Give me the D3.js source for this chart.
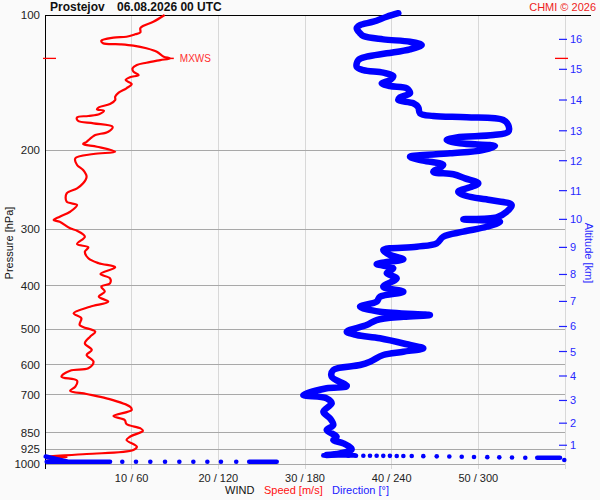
<!DOCTYPE html>
<html><head><meta charset="utf-8">
<script src="https://cdn.jsdelivr.net/npm/d3@7"></script>
<style>
body{margin:0;background:#fafafa}
svg{display:block;font-family:"Liberation Sans",Arial,sans-serif}
</style>
</head><body>
<svg id="c" width="600" height="500"></svg>
<script>
// ---- data ----
const titleStation = "Prostejov";
const titleTime = "06.08.2026 00 UTC";
const copyright = "CHMI \u00a9 2026";

const pressureTicks = [100,200,300,400,500,600,700,850,925,1000];
const pressureLabels = ["100","200","300","400","500","600","700","850","925","1000"];
const windTicks = [10,20,30,40,50];
const windTickLabels = ["10 / 60","20 / 120","30 / 180","40 / 240","50 / 300"];
const altKm = [1,2,3,4,5,6,7,8,9,10,11,12,13,14,15,16];
const altPressure = [907,810,721,636,561,493.5,434,378,329,285,246,211,181,154.6,132.1,113.3];

// wind speed profile (hPa, m/s)
const speedP = [100,103.5,105.8,107,109.3,110.4,111.8,112.3,114.1,115.6,
116.2,117,118.6,120.7,123.8,124.9,126,127.7,129.2,131.4,
133.7,136,137.6,139.6,142.4,145.6,148.9,152,154.6,157.8,
160.5,162.2,163.3,166.1,167.8,168.9,171.9,174.2,177.3,181.9,
185,187.2,191.5,193.7,196.4,201.5,203.9,208.4,215.7,221.3,
229,236.9,243.1,249.4,260.3,264.8,274.1,281.2,286,288.5,
298.4,302.1,311.5,323.4,328.9,336.4,347.9,356.9,364.3,377.1,
385.5,395.5,402.4,412.9,423.6,434.6,445.9,461.2,473.2,489.8,
506.9,520,537.9,556.7,571.1,591,611.4,619,638.3,651.5,
671.9,685.8,697.5,713.1,744.4,757.2,780.8,796.9,813.5,831.6,
841.9,868.2,882.9,913.7,929.4,948.7,961,963,968,978,982];
const speedV = [13.8,12.5,11.3,11.0,11.0,10.4,9.4,7.9,6.5,6.7,
8.7,10.2,11.7,12.9,13.7,14.4,13.3,11.7,10.6,10.1,
10.2,10.8,9.8,9.3,10.0,9.4,8.5,8.1,8.1,7.5,
6.2,6.0,6.8,6.3,5.0,3.7,3.8,5.6,7.8,7.3,
5.8,5.4,4.8,4.4,6.0,8.1,5.6,3.5,3.7,4.4,
4.8,4.4,3.7,2.5,2.5,3.7,2.9,1.7,1.0,1.7,
2.9,3.7,4.6,3.7,5.0,4.6,5.0,6.2,8.1,6.4,
7.5,7.5,6.5,6.9,6.2,7.3,5.2,3.3,4.2,4.0,
5.8,5.2,4.6,5.4,4.8,5.6,5.0,2.9,1.9,3.7,
3.5,2.9,4.8,7.1,9.8,10.0,7.9,9.2,9.4,11.0,
11.3,9.8,9.4,10.6,10.2,4.8,0.2,2.5,1.2,0.6,0.2];

// wind direction profile (hPa, degrees)
const dirP = [99.1,100.9,103.5,105.3,107,109.8,111.4,113.3,114.7,116.6,
119.2,121.7,123.8,126,130.4,132.6,134.4,136.7,139.6,141.9,
143.9,145.6,149.4,152.5,154.6,157.2,160.5,165.5,167.8,168.9,
171.3,175.7,181.9,185,187.2,189.8,193,195.7,199.8,203.2,
206.8,211,215.7,223.3,226.2,231,236.9,241.8,247.4,252.8,
258.1,264.8,274.1,282.1,284.9,288.5,296,303.6,311.5,322.2,
327.9,333.4,342.1,349.7,358.3,366.2,375.7,385.5,402.4,412.9,
423.6,434.6,445.9,457.5,465.3,469.4,477.4,489.8,506.9,515.5,
524.3,542.6,551.8,561.6,571.1,591,601.2,616.7,638.3,669.4,
677.3,701.2,713.1,731.6,763.7,790,817.6,838.8,868.2,882.9,
898.1,926,945.2,953.5];
const dirV = [244.6,236.6,227.3,218.1,215.8,218.1,220.4,234.2,252.7,260.8,
252.7,236.6,222.7,216.9,215.8,220.4,234.2,241.1,238.8,233.1,
238.8,250.4,252.7,245.8,244.6,255,258.4,259.6,268.8,291.9,
317.3,320.7,320.7,310.4,285,278.1,287.3,311.5,303,280.4,
252.7,261.9,275.7,268.8,282.7,290.8,300,294.2,286.1,291.9,
308.1,323.1,319.6,312.7,289.6,315,305.8,289.6,275.7,271.2,
257.3,234.2,238.8,248.1,229.6,241.1,236.6,243.5,234.2,248.1,
231.9,229.6,218.1,231.9,266.5,248.1,229.6,222.7,208.9,215.8,
231.9,252.7,261.9,248.1,234.2,225,218.1,199.6,198.5,208.9,
195,178.8,195,198.5,192.7,197.3,199.6,195,201.9,199.6,
206.5,212.3,204.2,195];

// isolated direction samples near the ground (hPa, degrees)
const dotP = [956.8,956.8,956.8,957,957,957.5,957.5,958,958,958.5,959,960,961,962,963,964,965,966,966.8,978,
986.8,986.8,986.8,986.8,986.8,986.8,986.8,986.8,986.8];
const dotV = [210,215.3,220.4,225,229.6,234.2,238.8,243.5,248.1,253.9,261.9,271.2,279.9,288.5,297,306.2,314.5,323.3,332.5,359.5,
53.5,63,72.9,83.1,93,102.7,112.4,121.8,132.4];
// dense direction sample runs near the ground
const surfaceRuns = [
  [[955.5,192.7],[955.5,214.4]],
  [[966.8,340.8],[966.8,356.5]],
  [[986.8,1.2],[986.8,45]],
  [[986.8,141.4],[986.8,160.4]],
  [[961,0.5],[986,15]]
];
const mxwsP = 124.9, mxwsV = 14.4;

// ---- drawing ----
const svg = d3.select('#c');
const L=45, R=565, T=15, B=464.3;
const x = d3.scaleLinear().domain([0,60]).range([L,R]);
const xd = d3.scaleLinear().domain([0,360]).range([L,R]);
const y = d3.scaleLog().domain([100,1000]).range([T,B]);
const curve = d3.curveCatmullRom.alpha(0.5);

svg.append('rect').attr('width',600).attr('height',500).attr('fill','#fafafa');

// vertical grid
svg.append('g').selectAll('line').data(windTicks).enter().append('line')
  .attr('x1',d=>x(d)).attr('x2',d=>x(d)).attr('y1',T).attr('y2',469)
  .attr('stroke','#d8d8d8').attr('stroke-width',1).attr('shape-rendering','crispEdges');
// right frame line
svg.append('line').attr('x1',R).attr('x2',R).attr('y1',T).attr('y2',469)
  .attr('stroke','#d8d8d8').attr('shape-rendering','crispEdges');
// horizontal grid
svg.append('g').selectAll('line').data(pressureTicks.slice(1)).enter().append('line')
  .attr('x1',L).attr('x2',R).attr('y1',d=>y(d)).attr('y2',d=>y(d))
  .attr('stroke','#a8a8a8').attr('stroke-width',1).attr('shape-rendering','crispEdges');
// top and left axis
svg.append('line').attr('x1',L).attr('x2',591).attr('y1',T).attr('y2',T)
  .attr('stroke','#000').attr('shape-rendering','crispEdges');
svg.append('line').attr('x1',L).attr('x2',L).attr('y1',T).attr('y2',469)
  .attr('stroke','#000').attr('shape-rendering','crispEdges');

// pressure labels
svg.append('g').selectAll('text').data(pressureTicks).enter().append('text')
  .attr('x',40).attr('y',d=>y(d)+4).attr('text-anchor','end')
  .attr('font-size',11.5).attr('fill','#222')
  .text((d,i)=>pressureLabels[i]);
// wind labels
svg.append('g').selectAll('text').data(windTicks).enter().append('text')
  .attr('x',d=>x(d)).attr('y',482).attr('text-anchor','middle')
  .attr('font-size',11).attr('fill','#222')
  .text((d,i)=>windTickLabels[i]);

// altitude axis
const ga = svg.append('g');
ga.selectAll('line').data(altKm).enter().append('line')
  .attr('x1',559).attr('x2',567).attr('y1',(d,i)=>y(altPressure[i])).attr('y2',(d,i)=>y(altPressure[i]))
  .attr('stroke','#2020ff').attr('stroke-width',1.2);
ga.selectAll('text').data(altKm).enter().append('text')
  .attr('x',570).attr('y',(d,i)=>y(altPressure[i])+4)
  .attr('font-size',11).attr('fill','#2828ff').text(d=>d);

// axis titles
svg.append('text').attr('transform','translate(13,243) rotate(-90)')
  .attr('text-anchor','middle').attr('font-size',11).attr('fill','#111').text('Pressure [hPa]');
svg.append('text').attr('transform','translate(585,253) rotate(90)')
  .attr('text-anchor','middle').attr('font-size',11).attr('fill','#2828ff').text('Altitude [km]');

const bl = svg.append('text').attr('x',225).attr('y',494).attr('font-size',11);
bl.append('tspan').attr('fill','#111').text('WIND');
bl.append('tspan').attr('x',264).attr('fill','#ff1010').text('Speed [m/s]');
bl.append('tspan').attr('x',332).attr('fill','#2020ff').text('Direction [\u00b0]');

// title
svg.append('text').attr('x',50).attr('y',11).attr('font-size',12).attr('font-weight','bold').attr('fill','#111').text(titleStation);
svg.append('text').attr('x',117).attr('y',11).attr('font-size',12).attr('font-weight','bold').attr('fill','#111').text(titleTime);
svg.append('text').attr('x',596).attr('y',11).attr('text-anchor','end').attr('font-size',11).attr('fill','#ee1c1c').text(copyright);

// speed line
const speedData = speedP.map((p,i)=>({p, v:speedV[i]}));
svg.append('path').datum(speedData)
  .attr('d', d3.line().curve(curve).x(d=>x(d.v)).y(d=>y(d.p)))
  .attr('fill','none').attr('stroke','#ff0000').attr('stroke-width',2.2).attr('stroke-linejoin','round');

// MXWS marker
const my = y(mxwsP);
svg.append('line').attr('x1',43).attr('x2',56).attr('y1',my).attr('y2',my).attr('stroke','#ff0000').attr('stroke-width',1.3);
svg.append('line').attr('x1',555).attr('x2',568).attr('y1',my).attr('y2',my).attr('stroke','#ff0000').attr('stroke-width',1.3);
svg.append('line').attr('x1',x(mxwsV)).attr('x2',x(mxwsV)+4).attr('y1',my).attr('y2',my).attr('stroke','#ff0000').attr('stroke-width',1.5);
svg.append('text').attr('x',x(mxwsV)+10).attr('y',my+3.5).attr('font-size',10).attr('fill','#ff3030').text('MXWS');

// direction trace
const dirData = dirP.map((p,i)=>({p, v:dirV[i]}));
svg.append('path').datum(dirData)
  .attr('d', d3.line().curve(curve).x(d=>xd(d.v)).y(d=>y(d.p)))
  .attr('fill','none').attr('stroke','#0000ff').attr('stroke-width',6.5)
  .attr('stroke-linejoin','round').attr('stroke-linecap','round');
svg.append('g').selectAll('path').data(surfaceRuns).enter().append('path')
  .attr('d', d3.line().x(d=>xd(d[1])).y(d=>y(d[0])))
  .attr('fill','none').attr('stroke','#0000ff').attr('stroke-width',4.6).attr('stroke-linecap','round');
svg.append('g').selectAll('circle').data(dotP.map((p,i)=>({p, v:dotV[i]}))).enter().append('circle')
  .attr('cx',d=>xd(d.v)).attr('cy',d=>y(d.p)).attr('r',2.3).attr('fill','#0000ff');
</script>
</body></html>
